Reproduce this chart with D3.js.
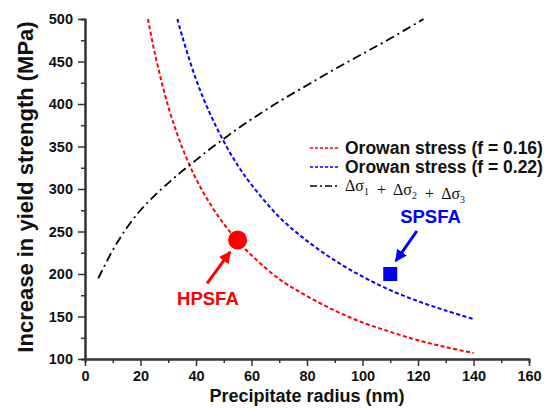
<!DOCTYPE html>
<html><head><meta charset="utf-8">
<script src="https://cdn.jsdelivr.net/npm/d3@7"></script>
<style>
body{margin:0;background:#fff}
text{font-family:'Liberation Sans',Arial,sans-serif}
</style>
</head><body>
<svg id="c" width="553" height="408"></svg>
<script>
// precipitate radius (nm) -> stress increase (MPa)
const redRadius   = [22.7, 25, 30, 35, 40, 45, 50, 55, 60, 70, 80, 90, 100, 110, 120, 130, 140];
const redStress   = [500, 462, 397, 349, 312, 283, 259, 239, 222, 194, 174, 157, 143, 132, 122, 114, 107];
const blueRadius  = [33.3, 35, 40, 45, 50, 55, 60, 70, 80, 90, 100, 110, 120, 130, 140];
const blueStress  = [500, 480, 429, 389, 356, 328, 305, 267, 239, 216, 197, 181, 168, 157, 147];
const sumRadius   = [4.8, 10, 15, 20, 25, 30, 35, 40, 45, 50, 55, 60, 70, 80, 90, 100, 110, 122];
const sumStress   = [195, 228, 254, 275, 292, 307, 321, 334, 347, 359, 371, 382, 403, 422, 441, 459, 477, 500];
const samples     = [{name: "HPSFA", r: 55, s: 240}, {name: "SPSFA", r: 110, s: 200}];
const xTicks      = [0, 20, 40, 60, 80, 100, 120, 140, 160];
const yTicks      = [100, 150, 200, 250, 300, 350, 400, 450, 500];

const svg = d3.select("#c");
const x = d3.scaleLinear().domain([0, 160]).range([85, 529]);
const y = d3.scaleLinear().domain([100, 500]).range([359, 19]);

const RED = "#ff0000", BLUE = "#0000ff";

// axes
const axisColor = "#333";
function styleAxis(g) {
  g.select(".domain").attr("stroke", axisColor).attr("stroke-width", 2);
  g.selectAll(".tick line").attr("stroke", axisColor).attr("stroke-width", 1.5);
  g.selectAll("text").attr("fill", "#111").style("font-weight", "bold").style("font-size", "14.5px")
    .style("font-family", "'Liberation Sans',Arial,sans-serif");
}
svg.append("g").attr("transform", "translate(0,359)")
  .call(d3.axisBottom(x).tickValues(d3.range(10, 160, 20)).tickSize(4).tickFormat(""))
  .call(styleAxis);
svg.append("g").attr("transform", "translate(85,0)")
  .call(d3.axisLeft(y).tickValues(d3.range(125, 500, 50)).tickSize(4).tickFormat(""))
  .call(styleAxis);
svg.append("g").attr("transform", "translate(0,359)")
  .call(d3.axisBottom(x).tickValues(xTicks).tickSize(7).tickPadding(5).tickSizeOuter(0))
  .call(styleAxis);
svg.append("g").attr("transform", "translate(85,0)")
  .call(d3.axisLeft(y).tickValues(yTicks).tickSize(7).tickPadding(5).tickSizeOuter(0))
  .call(styleAxis);

// titles
svg.append("text").attr("x", 307).attr("y", 402).attr("text-anchor", "middle")
  .style("font-weight", "bold").style("font-size", "18px").attr("fill", "#111")
  .text("Precipitate radius (nm)");
svg.append("text").attr("transform", "translate(33,187) rotate(-90)").attr("text-anchor", "middle")
  .style("font-weight", "bold").style("font-size", "22px").attr("fill", "#111")
  .text("Increase in yield strength (MPa)");

// curves
const line = d3.line().x(d => x(d[0])).y(d => y(d[1])).curve(d3.curveCatmullRom);
const series = [
  {r: redRadius, s: redStress, color: RED, dash: "4,2.5", w: 2},
  {r: blueRadius, s: blueStress, color: BLUE, dash: "4,2.5", w: 2},
  {r: sumRadius, s: sumStress, color: "#000", dash: "9,4,2,4", w: 1.8}
];
series.forEach(sr => {
  svg.append("path").datum(d3.zip(sr.r, sr.s)).attr("d", line)
    .attr("fill", "none").attr("stroke", sr.color)
    .attr("stroke-width", sr.w).attr("stroke-dasharray", sr.dash);
});

// sample points
svg.append("circle").attr("cx", x(samples[0].r)).attr("cy", y(samples[0].s)).attr("r", 9.5).attr("fill", RED);
svg.append("rect").attr("x", x(samples[1].r) - 7).attr("y", y(samples[1].s) - 7)
  .attr("width", 14).attr("height", 14).attr("fill", BLUE);

// arrows + labels
const defs = svg.append("defs");
[["ahRed", RED], ["ahBlue", BLUE]].forEach(([id, c]) => {
  defs.append("marker").attr("id", id).attr("viewBox", "0 -5 10 10")
    .attr("refX", 9).attr("refY", 0).attr("markerUnits", "userSpaceOnUse")
    .attr("markerWidth", 12).attr("markerHeight", 12).attr("orient", "auto")
    .append("path").attr("d", "M0,-5L10,0L0,5Z").attr("fill", c);
});
const arrows = [
  {from: [44, 189], to: [52.3, 226], color: RED, m: "ahRed"},
  {from: [119.6, 250.6], to: [112, 215.3], color: BLUE, m: "ahBlue"}
];
arrows.forEach(a => {
  svg.append("line").attr("x1", x(a.from[0])).attr("y1", y(a.from[1]))
    .attr("x2", x(a.to[0])).attr("y2", y(a.to[1]))
    .attr("stroke", a.color).attr("stroke-width", 3).attr("marker-end", `url(#${a.m})`);
});
svg.append("text").attr("x", x(44.3)).attr("y", y(163.5)).attr("text-anchor", "middle")
  .style("font-weight", "bold").style("font-size", "18.5px").attr("fill", RED).text(samples[0].name);
svg.append("text").attr("x", x(124.5)).attr("y", y(260)).attr("text-anchor", "middle")
  .style("font-weight", "bold").style("font-size", "18.5px").attr("fill", BLUE).text(samples[1].name);

// legend
const legend = svg.append("g");
const rows = [
  {color: RED, dash: "3,2", w: 1.5, label: "Orowan stress (f = 0.16)"},
  {color: BLUE, dash: "3,2", w: 1.5, label: "Orowan stress (f = 0.22)"},
  {color: "#000", dash: "7,3,2,3", w: 1.5, label: null}
];
rows.forEach((row, i) => {
  const yy = 148 + i * 19;
  legend.append("line").attr("x1", 310).attr("x2", 340).attr("y1", yy).attr("y2", yy)
    .attr("stroke", row.color).attr("stroke-width", row.w).attr("stroke-dasharray", row.dash);
  if (row.label) {
    legend.append("text").attr("x", 345).attr("y", yy + 5.5)
      .style("font-weight", "bold").style("font-size", "17.5px").attr("fill", "#111").text(row.label);
  } else {
    const t = legend.append("text").attr("x", 345).attr("y", yy + 5)
      .style("white-space", "pre")
      .style("font-family", "'Liberation Serif','Times New Roman',serif").style("font-size", "16px").attr("fill", "#111");
    [1, 2, 3].forEach(k => {
      t.append("tspan").text((k > 1 ? "  +  " : "") + "\u0394\u03c3");
      t.append("tspan").attr("dy", 4).style("font-size", "10px").text(k);
      t.append("tspan").attr("dy", -4).text("");
    });
  }
});
</script>
</body></html>
